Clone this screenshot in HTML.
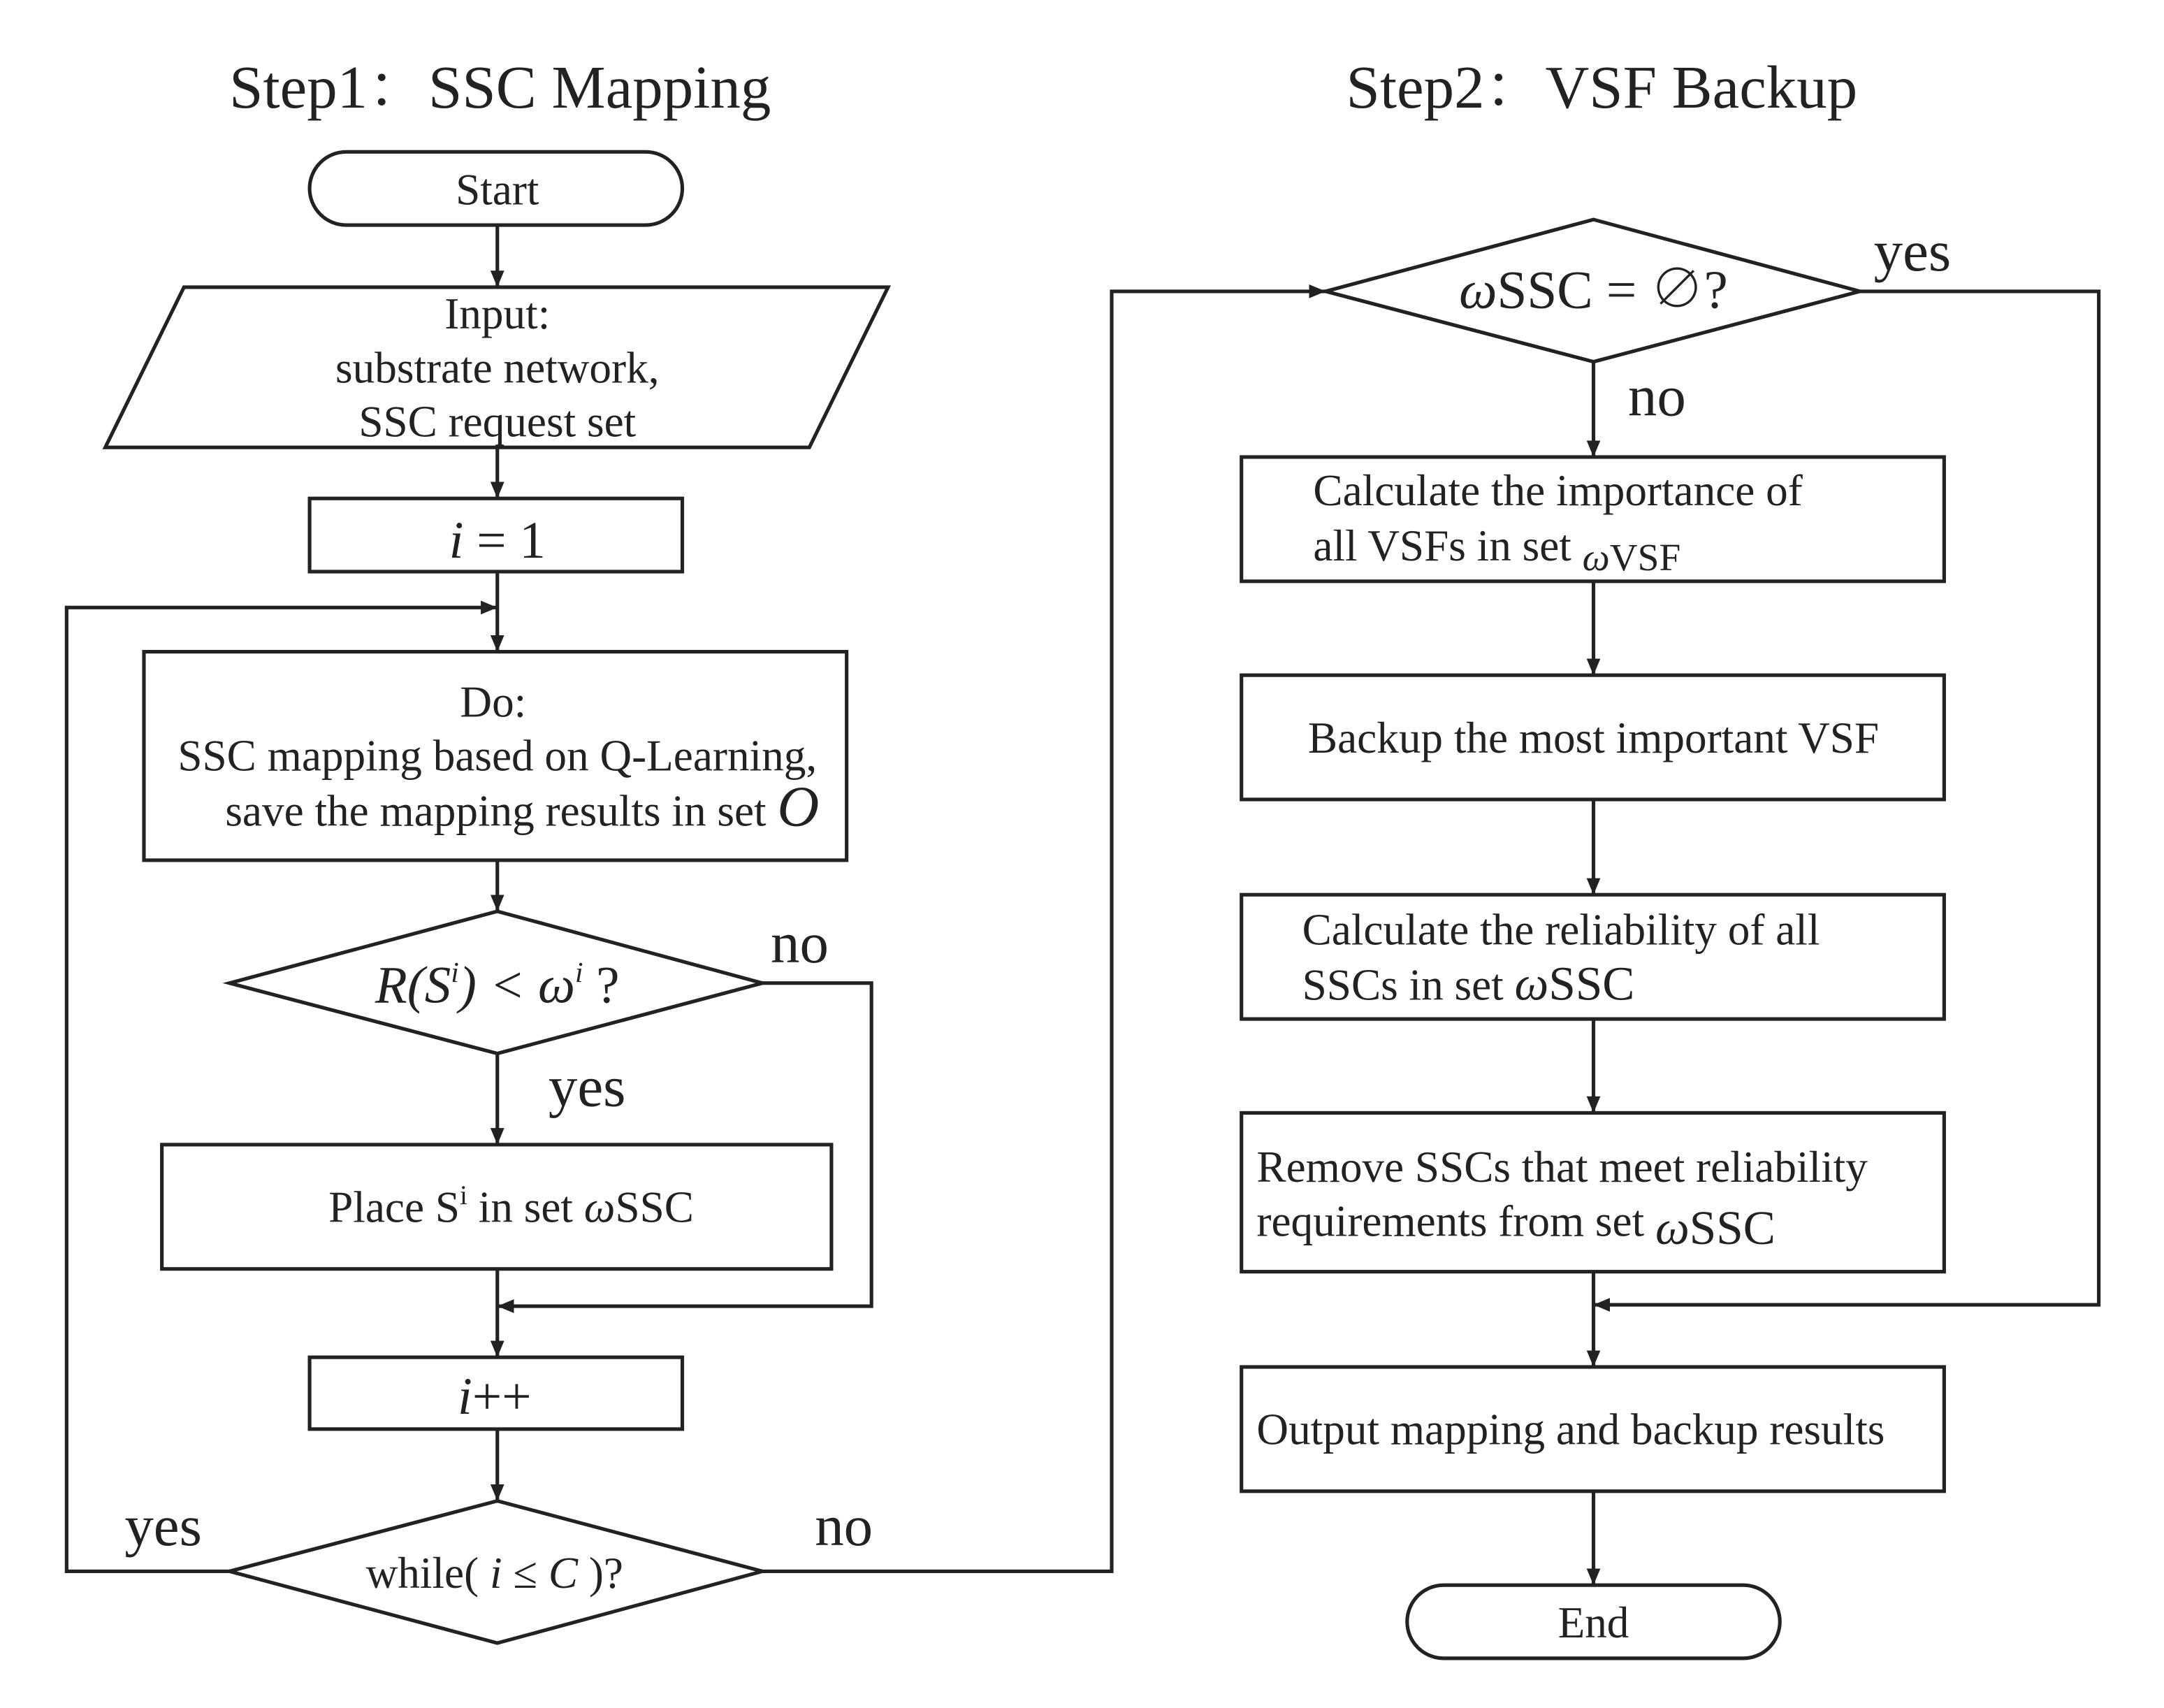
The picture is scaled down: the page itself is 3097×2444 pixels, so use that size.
<!DOCTYPE html>
<html><head><meta charset="utf-8"><style>
html,body{margin:0;padding:0;background:#fff;}
svg{display:block;}
text{font-family:"Liberation Serif","Noto Serif CJK SC",serif;fill:#222;}
</style></head><body>
<svg width="3097" height="2444" viewBox="0 0 1567 1237" xmlns="http://www.w3.org/2000/svg">
<defs>
<marker id="a" viewBox="0 0 12 10" refX="12" refY="5" markerWidth="12" markerHeight="10" markerUnits="userSpaceOnUse" orient="auto">
<path d="M0,0 L12,5 L0,10 z" fill="#222"/></marker>
</defs>
<g stroke="#222" stroke-width="2.6" fill="none">
<rect x="224" y="110" width="270" height="53" rx="26.5"/>
<polygon points="133,208 643,208 586,324 76,324"/>
<rect x="224" y="361" width="270" height="53"/>
<rect x="104" y="472" width="509" height="151"/>
<polygon points="166,712 360,660 552,712 360,763"/>
<rect x="117" y="829" width="485" height="90"/>
<rect x="224" y="983" width="270" height="52"/>
<polygon points="166,1138 360,1087 552,1138 360,1190"/>
<polygon points="960,211 1154,159 1347,211 1154,262"/>
<rect x="899" y="331" width="509" height="90"/>
<rect x="899" y="489" width="509" height="90"/>
<rect x="899" y="648" width="509" height="90"/>
<rect x="899" y="806" width="509" height="115"/>
<rect x="899" y="990" width="509" height="90"/>
<rect x="1019" y="1148" width="270" height="53" rx="26.5"/>
<line x1="360" y1="163" x2="360" y2="208" marker-end="url(#a)"/>
<line x1="360" y1="324" x2="360" y2="361" marker-end="url(#a)"/>
<line x1="360" y1="414" x2="360" y2="472" marker-end="url(#a)"/>
<polyline points="166,1138 48,1138 48,440 360,440" marker-end="url(#a)"/>
<line x1="360" y1="623" x2="360" y2="660" marker-end="url(#a)"/>
<polyline points="552,712 631,712 631,946 360,946" marker-end="url(#a)"/>
<line x1="360" y1="763" x2="360" y2="829" marker-end="url(#a)"/>
<line x1="360" y1="919" x2="360" y2="983" marker-end="url(#a)"/>
<line x1="360" y1="1035" x2="360" y2="1087" marker-end="url(#a)"/>
<polyline points="552,1138 805,1138 805,211 960,211" marker-end="url(#a)"/>
<polyline points="1347,211 1520,211 1520,945 1154,945" marker-end="url(#a)"/>
<line x1="1154" y1="262" x2="1154" y2="331" marker-end="url(#a)"/>
<line x1="1154" y1="421" x2="1154" y2="489" marker-end="url(#a)"/>
<line x1="1154" y1="579" x2="1154" y2="648" marker-end="url(#a)"/>
<line x1="1154" y1="738" x2="1154" y2="806" marker-end="url(#a)"/>
<line x1="1154" y1="921" x2="1154" y2="990" marker-end="url(#a)"/>
<line x1="1154" y1="1080" x2="1154" y2="1148" marker-end="url(#a)"/>
</g>
<g font-size="44" text-anchor="middle">
<text x="362" y="78">Step1：SSC Mapping</text>
<text x="1160" y="78">Step2：VSF Backup</text>
</g>
<g font-size="32" text-anchor="middle">
<text x="360" y="148">Start</text>
<text x="360" y="238">Input:</text>
<text x="360" y="277">substrate network,</text>
<text x="360" y="316">SSC request set</text>
<text x="360" y="404" font-size="38"><tspan font-style="italic">i</tspan>  =  1</text>
<text x="357" y="519">Do:</text>
<text x="360" y="558">SSC mapping based on Q-Learning,</text>
<text x="378" y="598">save the mapping results in set <tspan font-style="italic" font-size="42">O</tspan></text>
<text x="360" y="726" font-size="38" font-style="italic">R(S<tspan font-size="21" dy="-15">i</tspan><tspan dy="15">) &lt; ω</tspan><tspan font-size="21" dy="-15">i</tspan><tspan dy="15" font-style="normal"> ?</tspan></text>
<text x="370" y="885">Place  S<tspan font-size="20" dy="-13">i</tspan><tspan dy="13">  in set </tspan><tspan font-style="italic">ω</tspan>SSC</text>
<text x="358" y="1024" font-size="38"><tspan font-style="italic">i</tspan>++</text>
<text x="358" y="1150">while(  <tspan font-style="italic">i</tspan> ≤  <tspan font-style="italic">C</tspan>  )?</text>
<text x="1154" y="223" font-size="39"><tspan font-style="italic">ω</tspan>SSC = ∅?</text>
<text x="1154" y="545">Backup the most important VSF</text>
<text x="1154" y="1186">End</text>
</g>
<g font-size="32">
<text x="951" y="366">Calculate the importance of</text>
<text x="951" y="406">all VSFs in set  <tspan font-size="28" dy="7" font-style="italic">ω</tspan><tspan font-size="28">VSF</tspan></text>
<text x="943" y="684">Calculate the reliability of all</text>
<text x="943" y="724">SSCs in set  <tspan font-style="italic" font-size="35">ω</tspan><tspan font-size="35">SSC</tspan></text>
<text x="910" y="856">Remove SSCs that meet reliability</text>
<text x="910" y="895">requirements from set <tspan font-style="italic" font-size="35" dy="6">ω</tspan><tspan font-size="35">SSC</tspan></text>
<text x="910" y="1046">Output mapping and backup results</text>
</g>
<g font-size="42">
<text x="558" y="697">no</text>
<text x="397" y="801">yes</text>
<text x="90" y="1119">yes</text>
<text x="590" y="1119">no</text>
<text x="1357" y="196">yes</text>
<text x="1179" y="301">no</text>
</g>
</svg>
</body></html>
